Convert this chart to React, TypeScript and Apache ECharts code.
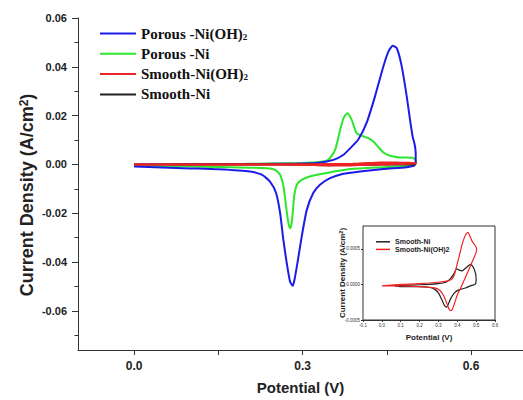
import React, { useEffect, useRef } from "react";
import * as echarts from "echarts";

// ---------- data ----------
const potentialLabelTicks = [0, 0.3, 0.6];
const potentialTickValues = [0, 0.15, 0.3, 0.45, 0.6];
const currentLabelTicks = [-0.06, -0.04, -0.02, 0, 0.02, 0.04, 0.06];
const currentMinorTicks = [-0.07, -0.05, -0.03, -0.01, 0.01, 0.03, 0.05];
const insetPotentialTicks = [-0.1, 0, 0.1, 0.2, 0.3, 0.4, 0.5, 0.6];
const insetCurrentTicks = [-0.0005, 0, 0.0005];

const porousNiOH2Potential = [
  0.0, 0.05, 0.1, 0.15, 0.2, 0.25, 0.29, 0.325, 0.355, 0.373, 0.385, 0.399, 0.414, 0.429, 0.444, 0.453,
  0.4605, 0.4677, 0.4766, 0.4855, 0.4914, 0.496, 0.4997, 0.5015, 0.5015, 0.4985,
  0.4855, 0.444, 0.4023, 0.3726, 0.349, 0.331, 0.319, 0.3075, 0.2985, 0.2908, 0.2855, 0.2825, 0.2777,
  0.2718, 0.2658, 0.26, 0.2528, 0.242, 0.2273, 0.2065, 0.15, 0.1, 0.05, 0.0,
];
const porousNiOH2Current = [
  0.0, 0.0001, 0.0001, 0.0002, 0.0002, 0.0003, 0.0004, 0.0006, 0.0019, 0.004, 0.0067, 0.0101, 0.017, 0.0279, 0.0402, 0.0463,
  0.0486, 0.0477, 0.0402, 0.0279, 0.0183, 0.0115, 0.0081, 0.0047, 0.0012, -0.0005,
  -0.0011, -0.0019, -0.0029, -0.0038, -0.0056, -0.0083, -0.0117, -0.0186, -0.0295, -0.0404, -0.0473, -0.0497, -0.048,
  -0.0404, -0.0309, -0.0199, -0.0117, -0.007, -0.0042, -0.0029, -0.002, -0.0016, -0.0012, -0.0008,
];

const porousNiPotential = [
  0.0, 0.1, 0.2, 0.3, 0.33, 0.346, 0.358, 0.367, 0.373, 0.38, 0.3875, 0.396, 0.405, 0.417, 0.426, 0.435,
  0.444, 0.456, 0.474, 0.497, 0.502, 0.499,
  0.444, 0.385, 0.343, 0.313, 0.2985, 0.2897, 0.285, 0.2825, 0.28, 0.2777, 0.2748, 0.2706, 0.266, 0.26,
  0.251, 0.236, 0.15, 0.0,
];
const porousNiCurrent = [
  0.0002, 0.0002, 0.0003, 0.0006, 0.001, 0.0019, 0.006, 0.0142, 0.019, 0.021, 0.0183, 0.0129, 0.0118, 0.0108, 0.0094, 0.0071,
  0.0049, 0.0036, 0.0029, 0.0027, 0.0012, -0.0004,
  -0.0011, -0.0019, -0.0035, -0.0049, -0.0063, -0.0083, -0.0131, -0.0199, -0.0247, -0.0261, -0.024, -0.0172, -0.009, -0.0042,
  -0.0022, -0.0015, -0.001, -0.0005,
];

const smoothNiOH2Potential = [
  0.0, 0.05, 0.1, 0.2, 0.3, 0.35, 0.37, 0.385, 0.4, 0.415, 0.43, 0.445, 0.457, 0.468, 0.48, 0.497, 0.502, 0.5,
  0.48, 0.46, 0.44, 0.42, 0.4, 0.385, 0.372, 0.365, 0.355, 0.345, 0.33, 0.31, 0.28, 0.2, 0.1, 0.0,
];
const smoothNiOH2Current = [
  -0.00002, -0.00001, 0.0, 0.00001, 0.00003, 0.00005, 0.00007, 0.00014, 0.00029, 0.00045, 0.0006, 0.0007, 0.00073, 0.00067, 0.0006, 0.00054, 0.0005, 0.00045,
  0.00032, 0.0002, 0.00008, -0.00004, -0.00015, -0.00027, -0.00036, -0.00037, -0.00034, -0.00027, -0.00017, -0.00009, -0.00005, -0.00003, -0.00002, -0.00002,
];

const smoothNiPotential = [
  0.068, 0.15, 0.25, 0.3, 0.34, 0.36, 0.38, 0.398, 0.41, 0.425, 0.445, 0.47, 0.485, 0.497, 0.5, 0.495,
  0.47, 0.443, 0.405, 0.385, 0.365, 0.35, 0.343, 0.333, 0.317, 0.3, 0.281, 0.25, 0.19, 0.1, 0.068,
];
const smoothNiCurrent = [
  -0.00002, -0.00001, 0.0, 0.00001, 0.00003, 0.00007, 0.00014, 0.00022, 0.0002, 0.00019, 0.00023, 0.00028, 0.00024, 0.00015, 0.00006, 0.0,
  -0.00002, -0.00005, -0.00008, -0.00012, -0.0002, -0.00029, -0.00032, -0.0003, -0.00021, -0.00012, -0.00007, -0.00004, -0.00003, -0.00003, -0.00002,
];

const seriesNames = ["Porous -Ni(OH)2", "Porous -Ni", "Smooth-Ni(OH)2", "Smooth-Ni"];
const insetNames = ["Smooth-Ni", "Smooth-Ni(OH)2"];
const colors = ["#1c1ce8", "#2ee62e", "#ee2424", "#222222"];

const zip = (xs: number[], ys: number[]) => xs.map((x, i) => [x, ys[i]]);

const SANS = "Liberation Sans, Arial, sans-serif";
const SERIF = "Liberation Serif, Times New Roman, serif";

export default function App() {
  const ref = useRef<HTMLDivElement>(null);
  useEffect(() => {
    if (!ref.current) return;
    const chart = echarts.init(ref.current, undefined, { renderer: "svg" });
    const blue = zip(porousNiOH2Potential, porousNiOH2Current);
    const green = zip(porousNiPotential, porousNiCurrent);
    const red = zip(smoothNiOH2Potential, smoothNiOH2Current);
    const black = zip(smoothNiPotential, smoothNiCurrent);

    const mainAxisLine = { lineStyle: { color: "#333", width: 1 } };

    chart.setOption({
      animation: false,
      backgroundColor: "#fff",
      grid: [
        { left: 78, top: 18, right: 0, bottom: 50, show: false },
        { left: 363, top: 226, width: 132, height: 94, show: true, borderColor: "#333", borderWidth: 1, backgroundColor: "#fff", z: 5 },
      ],
      xAxis: [
        {
          type: "value",
          gridIndex: 0,
          min: -0.1,
          max: 0.6926,
          position: "bottom",
          splitLine: { show: false },
          axisLine: { show: true, onZero: false, ...mainAxisLine },
          axisTick: { show: true, inside: false, length: 5, customValues: potentialTickValues, lineStyle: { color: "#333" } },
          axisLabel: {
            customValues: potentialLabelTicks,
            formatter: (v: number) => v.toFixed(1),
            fontFamily: SANS,
            fontWeight: "bold",
            fontSize: 12,
            color: "#222",
            margin: 10,
          },
          name: "Potential (V)",
          nameLocation: "middle",
          nameGap: 30,
          nameTextStyle: { fontFamily: SANS, fontWeight: "bold", fontSize: 15, color: "#222" },
        },
        {
          type: "value",
          gridIndex: 1,
          min: -0.1,
          max: 0.6,
          splitLine: { show: false },
          axisLine: { show: true, onZero: false, lineStyle: { color: "#333", width: 1 } },
          axisTick: { show: true, length: 2, customValues: insetPotentialTicks, lineStyle: { color: "#333" } },
          axisLabel: {
            customValues: insetPotentialTicks,
            formatter: (v: number) => v.toFixed(1),
            fontFamily: SANS,
            fontSize: 4.5,
            color: "#333",
            margin: 3,
          },
          name: "Potential (V)",
          nameLocation: "middle",
          nameGap: 13,
          nameTextStyle: { fontFamily: SANS, fontWeight: "bold", fontSize: 8, color: "#222" },
        },
      ],
      yAxis: [
        {
          type: "value",
          gridIndex: 0,
          min: -0.076,
          max: 0.06,
          splitLine: { show: false },
          axisLine: { show: true, onZero: false, ...mainAxisLine },
          axisTick: { show: true, length: 6, customValues: currentLabelTicks, lineStyle: { color: "#333" } },
          axisLabel: {
            customValues: currentLabelTicks,
            formatter: (v: number) => v.toFixed(2),
            fontFamily: SANS,
            fontWeight: "bold",
            fontSize: 11,
            color: "#222",
            margin: 11,
          },
        },
        {
          type: "value",
          gridIndex: 0,
          min: -0.076,
          max: 0.06,
          position: "left",
          splitLine: { show: false },
          axisLine: { show: false, onZero: false },
          axisTick: { show: true, length: 3.5, customValues: currentMinorTicks, lineStyle: { color: "#333" } },
          axisLabel: { show: false },
        },
        {
          type: "value",
          gridIndex: 1,
          min: -0.0005,
          max: 0.00082,
          splitLine: { show: false },
          axisLine: { show: true, onZero: false, lineStyle: { color: "#333", width: 1 } },
          axisTick: { show: true, length: 2, customValues: insetCurrentTicks, lineStyle: { color: "#333" } },
          axisLabel: {
            customValues: insetCurrentTicks,
            formatter: (v: number) => v.toFixed(4),
            fontFamily: SANS,
            fontSize: 4.5,
            color: "#333",
            margin: 3,
          },
        },
      ],
      legend: [
        {
          data: seriesNames,
          orient: "vertical",
          left: 95,
          top: 21,
          itemWidth: 36,
          itemHeight: 2,
          itemGap: 5.3,
          icon: "rect",
          formatter: (name: string) => name.replace("(OH)2", "(OH){sub|2}"),
          textStyle: {
            fontFamily: SERIF,
            fontWeight: "bold",
            fontSize: 15,
            lineHeight: 15,
            color: "#111",
            rich: {
              sub: { fontFamily: SERIF, fontWeight: "bold", fontSize: 9, lineHeight: 15, verticalAlign: "bottom", color: "#111" },
            },
          },
        },
        {
          data: insetNames,
          orient: "vertical",
          left: 371,
          top: 233,
          itemWidth: 14,
          itemHeight: 1.5,
          itemGap: 0,
          icon: "rect",
          z: 10,
          textStyle: { fontFamily: SANS, fontWeight: "bold", fontSize: 7, lineHeight: 7.6, color: "#222" },
        },
      ],
      graphic: [
        {
          type: "text",
          x: 27,
          y: 195,
          rotation: Math.PI / 2,
          style: {
            text: "Current Density (A/cm{sup|2})",
            fontFamily: SANS,
            fontWeight: "bold",
            fontSize: 18,
            fill: "#222",
            align: "center",
            verticalAlign: "middle",
            rich: {
              sup: { fontFamily: SANS, fontWeight: "bold", fontSize: 12, verticalAlign: "top", fill: "#222" },
            },
          },
        },
        {
          type: "text",
          x: 342,
          y: 273,
          rotation: Math.PI / 2,
          z: 20,
          style: {
            text: "Current Density (A/cm{sup|2})",
            fontFamily: SANS,
            fontWeight: "bold",
            fontSize: 8,
            fill: "#222",
            align: "center",
            verticalAlign: "middle",
            rich: {
              sup: { fontFamily: SANS, fontWeight: "bold", fontSize: 5.5, verticalAlign: "top", fill: "#222" },
            },
          },
        },
      ],
      series: [
        { name: seriesNames[0], type: "line", xAxisIndex: 0, yAxisIndex: 0, data: blue, showSymbol: false, symbol: "none", smooth: 0.2, color: colors[0], lineStyle: { width: 2, color: colors[0] }, z: 3 },
        { name: seriesNames[1], type: "line", xAxisIndex: 0, yAxisIndex: 0, data: green, showSymbol: false, symbol: "none", smooth: 0.2, color: colors[1], lineStyle: { width: 2, color: colors[1] }, z: 2 },
        { name: seriesNames[3], type: "line", xAxisIndex: 0, yAxisIndex: 0, data: black, showSymbol: false, symbol: "none", smooth: 0.2, color: colors[3], lineStyle: { width: 2, color: colors[3] }, z: 3 },
        { name: seriesNames[2], type: "line", xAxisIndex: 0, yAxisIndex: 0, data: red, showSymbol: false, symbol: "none", smooth: 0.2, color: colors[2], lineStyle: { width: 2.5, color: colors[2] }, z: 4 },
        { name: insetNames[0], type: "line", xAxisIndex: 1, yAxisIndex: 2, data: black, showSymbol: false, symbol: "none", smooth: 0.2, color: colors[3], lineStyle: { width: 1.2, color: colors[3] }, z: 6 },
        { name: insetNames[1], type: "line", xAxisIndex: 1, yAxisIndex: 2, data: red, showSymbol: false, symbol: "none", smooth: 0.2, color: colors[2], lineStyle: { width: 1.2, color: colors[2] }, z: 7 },
      ],
    });
    return () => chart.dispose();
  }, []);
  return <div ref={ref} style={{ width: 523, height: 400, position: "absolute", left: 0, top: 0 }} />;
}
